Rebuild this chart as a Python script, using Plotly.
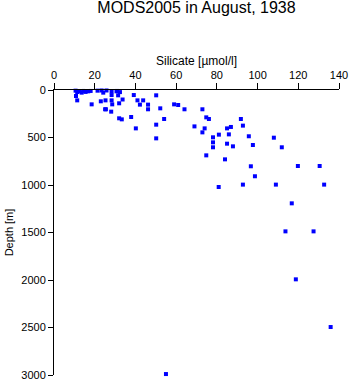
import plotly.graph_objects as go

# Silicate [umol/l] and depth [m]
silicate = [
    10.6, 11.4, 12.7, 13.6, 14.5, 15.5, 16.8, 18.0, 10.8, 11.4, 18.5,
    21.4, 23.4, 24.2, 25.8, 25.3, 23.0, 25.5, 28.3, 28.3, 28.3, 28.6, 30.7, 31.0,
    31.5, 32.4, 33.7, 32.0, 28.1, 25.1, 32.0, 33.3, 37.9, 39.2, 40.2, 41.0, 43.8,
    42.2, 46.2, 46.2, 50.2, 52.2, 59.0, 61.0, 64.1, 54.1, 50.2, 50.2,
    72.9, 74.8, 76.1, 69.0, 74.0, 72.9, 78.1, 78.1, 78.1, 74.8, 81.0, 85.0,
    86.9, 85.9, 85.0, 87.9, 84.0, 91.8, 92.8, 95.7, 97.7, 108.0, 111.9,
    96.7, 98.7, 119.8, 130.5, 92.8, 109.0, 132.7, 116.8, 113.7, 127.5,
    80.9, 118.8, 135.9, 55.0,
]
depth = [
    7, 21, 14, 28, 10, 20, 14, 10, 63, 109, 151,
    7, 5, 28, 5, 109, 119, 203, 14, 53, 109, 151, 14, 10,
    56, 22, 100, 140, 228, 203, 298, 309, 284, 53, 404, 109, 109,
    154, 154, 203, 56, 193, 151, 158, 203, 305, 365, 509,
    203, 288, 305, 383, 404, 446, 498, 551, 603, 688, 470, 404,
    389, 467, 565, 593, 730, 305, 375, 487, 579, 502, 603,
    803, 908, 800, 800, 996, 996, 996, 1193, 1488, 1488,
    1021, 1993, 2495, 2990,
]

x_ticks = [0, 20, 40, 60, 80, 100, 120, 140]
y_ticks = [0, 500, 1000, 1500, 2000, 2500, 3000]

font_family = "Liberation Sans, Arial, Helvetica, sans-serif"

fig = go.Figure(
    go.Scatter(
        x=silicate,
        y=depth,
        mode="markers",
        marker=dict(symbol="square", size=4, color="#0000ff", line=dict(width=0)),
        cliponaxis=False,
        showlegend=False,
    )
)

fig.update_layout(
    width=351,
    height=384,
    margin=dict(l=54, r=12, t=90, b=9),
    paper_bgcolor="white",
    plot_bgcolor="white",
    font=dict(family=font_family, size=11, color="black"),
    title=dict(
        text="MODS2005 in August, 1938",
        x=(54 + 339) / 2 / 351,
        xanchor="center",
        y=1 - 7 / 384,
        yanchor="middle",
        font=dict(size=16, color="black"),
    ),
    xaxis=dict(
        side="top",
        range=[0, 140],
        tickvals=x_ticks,
        ticktext=[str(v) for v in x_ticks],
        showgrid=False,
        zeroline=False,
        showline=True,
        linecolor="black",
        linewidth=1,
        ticks="outside",
        ticklen=6,
        tickcolor="black",
        tickfont=dict(size=11),
        automargin=False,
        title=dict(text="Silicate [µmol/l]", font=dict(size=12), standoff=0),
    ),
    yaxis=dict(
        range=[3000, 0],
        tickvals=y_ticks,
        ticktext=[str(v) for v in y_ticks],
        showgrid=False,
        zeroline=False,
        showline=True,
        linecolor="black",
        linewidth=1,
        ticks="outside",
        ticklen=5,
        tickcolor="black",
        tickfont=dict(size=11),
        automargin=False,
        title=dict(text="Depth [m]", font=dict(size=11), standoff=5),
    ),
)

fig.write_html("out.html")
